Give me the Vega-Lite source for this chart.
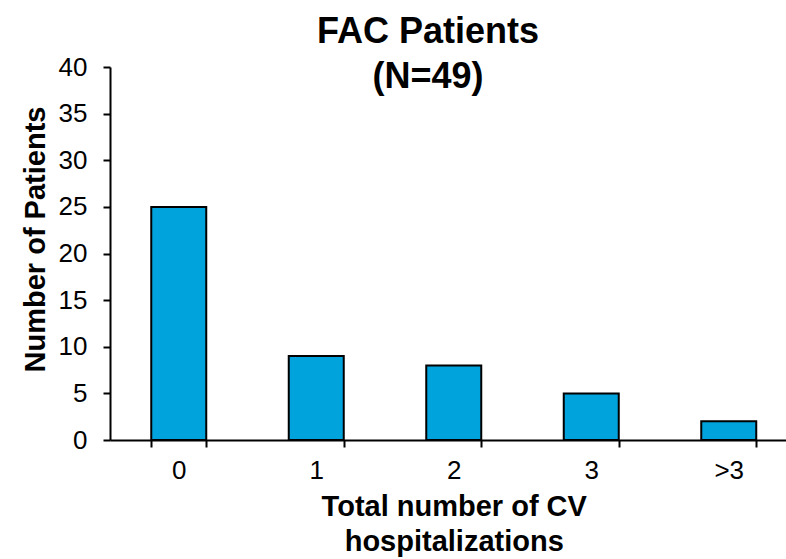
{
  "$schema": "https://vega.github.io/schema/vega-lite/v6.json",
  "width": 676,
  "height": 373,
  "autosize": {"type": "none"},
  "padding": {"left": 110, "top": 67, "right": 0, "bottom": 119},
  "background": "white",
  "title": {
    "text": ["FAC Patients", "(N=49)"],
    "font": "Liberation Sans",
    "fontSize": 36,
    "fontWeight": "bold",
    "color": "black",
    "lineHeight": 45,
    "anchor": "middle",
    "dx": -20,
    "dy": 42,
    "offset": 0
  },
  "data": {
    "values": [
      {"hosp": "0", "patients": 25},
      {"hosp": "1", "patients": 9},
      {"hosp": "2", "patients": 8},
      {"hosp": "3", "patients": 5},
      {"hosp": ">3", "patients": 2}
    ]
  },
  "mark": {"type": "bar", "color": "#00A3DB", "stroke": "black", "strokeWidth": 2},
  "encoding": {
    "x": {
      "field": "hosp",
      "type": "nominal",
      "sort": ["0", "1", "2", "3", ">3"],
      "scale": {"range": [0, 687.5], "paddingInner": 0.6, "paddingOuter": 0.3},
      "axis": {
        "title": ["Total number of CV", "hospitalizations"],
        "titleFont": "Liberation Sans",
        "titleFontSize": 29,
        "titleFontWeight": "bold",
        "titleColor": "black",
        "titleLineHeight": 35,
        "titlePadding": 9,
        "labelAngle": 0,
        "labelFont": "Liberation Sans",
        "labelFontSize": 26,
        "labelColor": "black",
        "labelPadding": 10,
        "tickBand": "extent",
        "tickSize": 7,
        "tickColor": "black",
        "tickWidth": 2,
        "domainColor": "black",
        "domainWidth": 2,
        "grid": false
      }
    },
    "y": {
      "field": "patients",
      "type": "quantitative",
      "scale": {"domain": [0, 40]},
      "axis": {
        "title": "Number of Patients",
        "titleFont": "Liberation Sans",
        "titleFontSize": 29,
        "titleFontWeight": "bold",
        "titleColor": "black",
        "titleAngle": -90,
        "titleAlign": "center",
        "titleBaseline": "middle",
        "titleX": -75,
        "titleY": 172,
        "values": [0, 5, 10, 15, 20, 25, 30, 35, 40],
        "labelFont": "Liberation Sans",
        "labelFontSize": 26,
        "labelColor": "black",
        "labelPadding": 16,
        "tickSize": 7,
        "tickColor": "black",
        "tickWidth": 2,
        "domainColor": "black",
        "domainWidth": 2,
        "grid": false
      }
    }
  },
  "config": {"view": {"stroke": null}}
}
